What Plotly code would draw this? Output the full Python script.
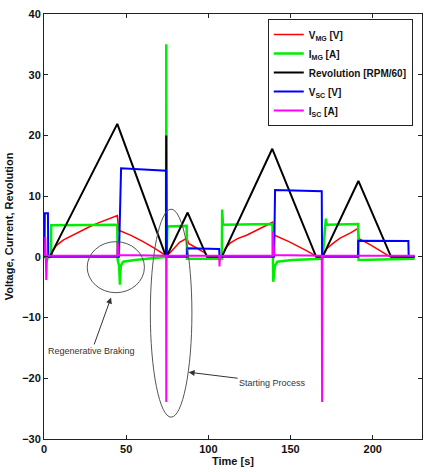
import plotly.graph_objects as go

# Time [s] / value breakpoints for each measured signal
t_vmg = [0, 4.4, 5.4, 7.6, 11.9, 17.8, 22.0, 28.0, 33.1, 38.1, 44.6, 45.5, 53.2, 60.3, 67.4, 74.7,
         78.4, 82.5, 87.0, 88.0, 92.5, 98.2, 99.6, 108.4, 109.2, 110.7, 113.4, 117.8, 123.6, 128.8,
         133.6, 139.1, 139.9, 149.0, 159.1, 166.4, 169.5, 172.2, 176.2, 180.2, 186.8, 191.1, 191.6,
         198.4, 208.2, 210.5, 225.5]
v_mg = [0, 0, 1.0, 1.9, 2.8, 3.6, 4.3, 5.0, 5.6, 6.1, 6.8, 4.4, 3.5, 2.5, 1.4, 0.1,
        1.2, 2.4, 3.1, 2.2, 1.5, 0.6, 0, 0, 0.6, 1.5, 2.3, 3.0, 3.6, 4.3,
        5.0, 5.7, 3.6, 2.5, 1.1, 0, 0, 1.4, 2.3, 3.1, 4.0, 4.7, 3.0,
        2.0, 0.4, 0, 0]

t_img = [0, 1.0, 1.6, 2.4, 4.3, 4.4, 44.6, 44.8, 45.7, 46.2, 46.7, 48.2, 55.3, 65.3, 74.3, 74.4,
         74.6, 75.1, 86.8, 87.0, 108.2, 108.4, 108.9, 139.0, 139.2, 139.5, 140.5, 142.0, 151.0,
         169.4, 169.6, 171.5, 172.0, 191.2, 191.4, 225.5]
i_mg = [0, 0, -0.8, 0, 0, 5.2, 5.3, -0.5, -1.5, -4.6, -1.5, -0.8, -0.5, -0.3, 0, 35,
        0, 5.0, 5.1, -0.3, -0.3, 7.8, 5.3, 5.4, -0.3, -4.1, -1.5, -0.8, -0.5,
        -0.3, 0, 6.3, 5.3, 5.4, -0.5, -0.3]

t_rev = [0, 3.5, 44.6, 74.3, 74.4, 74.5, 87.4, 99.2, 108.2, 138.9, 165.6, 169.5, 191.3, 211.2, 225.5]
rev = [0, 0, 21.9, 0, 20, 0, 7.3, 0, 0, 17.8, 0, 0, 12.5, 0, 0]

t_vsc = [0, 0.3, 0.5, 2.4, 2.6, 45.6, 46.9, 60.0, 74.3, 74.5, 87.0, 87.2, 106.6, 106.8, 140.0,
         140.6, 169.0, 169.2, 191.0, 191.2, 221.7, 221.9, 225.5]
v_sc = [0, 0, 7.2, 7.2, 0, 0, 14.6, 14.4, 14.2, 0, 0, 1.4, 1.3, 0, 0,
        11.0, 10.8, 0, 0, 2.65, 2.6, 0, 0]

t_isc = [0, 0.6, 0.8, 1.4, 1.8, 44.6, 44.8, 45.6, 74.3, 74.4, 74.6, 106.6, 106.8, 107.1, 139.1,
         139.3, 140.0, 169.0, 169.2, 169.4, 225.5]
i_sc = [0.1, 0.1, 3.3, -3.8, 0.2, 0.2, 2.5, 0.3, 0.2, -23.9, 0.2, 0.2, -1.6, 0.2, 0.2,
        4.2, 0.3, 0.2, -23.9, 0.2, 0.2]

series = [
    ("V<sub>MG</sub> [V]", t_vmg, v_mg, "#ff0000", 1.5),
    ("I<sub>MG</sub> [A]", t_img, i_mg, "#00ee00", 2.5),
    ("Revolution [RPM/60]", t_rev, rev, "#000000", 2),
    ("V<sub>SC</sub> [V]", t_vsc, v_sc, "#0000ff", 2),
    ("I<sub>SC</sub> [A]", t_isc, i_sc, "#ff00ff", 2),
]

x_ticks = [0, 50, 100, 150, 200]
y_ticks = [-30, -20, -10, 0, 10, 20, 30, 40]

FONT = "Liberation Sans, Arial, sans-serif"

fig = go.Figure()
for name, t, v, color, w in series:
    fig.add_trace(go.Scatter(x=t, y=v, mode="lines", name=name,
                             line=dict(color=color, width=w)))

axis_common = dict(showline=True, linecolor="#222", linewidth=1, mirror="ticks",
                   ticks="inside", ticklen=4, tickcolor="#222", showgrid=False,
                   zeroline=False, tickfont=dict(family=FONT, size=11, color="#111",
                                                 weight="bold"))
fig.update_xaxes(range=[0, 230], tickvals=x_ticks,
                 title=dict(text="<b>Time [s]</b>", font=dict(family=FONT, size=11, color="#111"),
                            standoff=2),
                 **axis_common)
fig.update_yaxes(range=[-30, 40], tickvals=y_ticks,
                 title=dict(text="<b>Voltage, Current, Revolution</b>",
                            font=dict(family=FONT, size=11, color="#111"), standoff=6),
                 **axis_common)

# Highlight ellipses
fig.add_shape(type="circle", xref="x", yref="y", x0=26.3, x1=61.1, y0=-5.9, y1=2.5,
              line=dict(color="#555", width=1))
fig.add_shape(type="circle", xref="x", yref="y", x0=64.7, x1=90.0, y0=-26.4, y1=7.85,
              line=dict(color="#555", width=1))

# Callout labels with arrows pointing at the highlighted events
fig.add_annotation(x=40.8, y=-6.7, ax=29.1, ay=-15.5, axref="x", ayref="y", xref="x", yref="y",
                   text="Regenerative Braking", showarrow=True, arrowhead=2, arrowsize=1.2,
                   arrowwidth=1, arrowcolor="#333", standoff=0,
                   font=dict(family=FONT, size=9, color="#333"))
fig.add_annotation(x=88.0, y=-19.0, ax=139.1, ay=-20.7, axref="x", ayref="y", xref="x", yref="y",
                   text="Starting Process", showarrow=True, arrowhead=2, arrowsize=1.2,
                   arrowwidth=1, arrowcolor="#333", standoff=0,
                   font=dict(family=FONT, size=9, color="#333"))

fig.update_layout(
    width=425, height=472,
    margin=dict(l=44, r=3, t=14, b=33),
    plot_bgcolor="white", paper_bgcolor="white",
    legend=dict(x=0.592, y=0.988, xanchor="left", yanchor="top",
                bordercolor="#222", borderwidth=1, bgcolor="white",
                font=dict(family=FONT, size=10, color="#111", weight="bold"),
                tracegroupgap=0, itemwidth=30),
)

fig.write_html("out.html")
